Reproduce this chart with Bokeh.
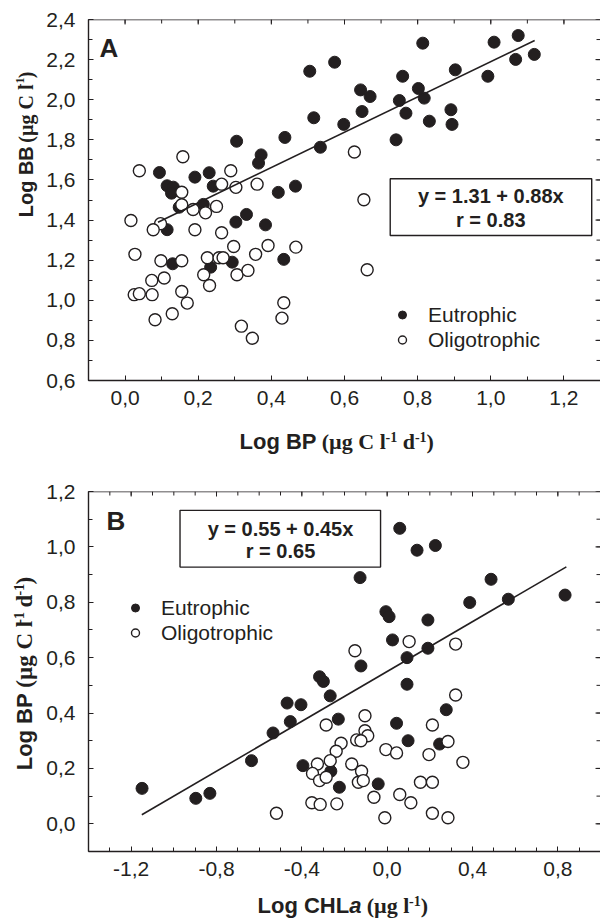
import numpy as np
from bokeh.plotting import figure
from bokeh.models import (Range1d, LinearAxis, FixedTicker, CustomJSTickFormatter,
                          Label, Legend, LegendItem, BoxAnnotation, Span)
from bokeh.layouts import column, row
from bokeh.embed import file_html
from bokeh.resources import INLINE

INK = "#231f20"

# ---------------- Panel A : Log BB vs Log BP ----------------
a_eu_bp = [0.505, 0.516, 0.534, 0.437, 0.305, 0.372, 0.365, 0.094, 0.191, 0.230,
           0.115, 0.132, 0.127, 0.241, 0.419, 0.466, 0.148, 0.214, 0.115, 0.303,
           0.332, 0.384, 0.130, 0.234, 0.293, 0.434, 0.573, 0.814, 1.009, 1.075,
           1.119, 1.068, 0.992, 0.903, 0.759, 0.802, 0.818, 0.750, 0.768, 0.832,
           0.891, 0.894, 0.741, 0.644, 0.670, 0.648, 0.598]
a_eu_bb = [2.142, 1.910, 1.763, 1.812, 1.793, 1.725, 1.684, 1.637, 1.614, 1.636,
           1.571, 1.564, 1.534, 1.569, 1.538, 1.569, 1.464, 1.478, 1.352, 1.390,
           1.428, 1.376, 1.182, 1.165, 1.190, 1.204, 2.187, 2.282, 2.287, 2.320,
           2.226, 2.201, 2.117, 2.149, 2.117, 2.056, 2.008, 1.996, 1.933, 1.893,
           1.950, 1.877, 1.800, 2.049, 2.016, 1.941, 1.877]
a_ol_bp = [0.039, 0.158, 0.155, 0.264, 0.289, 0.303, 0.361, 0.155, 0.186, 0.220,
           0.250, 0.016, 0.097, 0.077, 0.191, 0.264, 0.027, 0.098, 0.155, 0.225,
           0.257, 0.268, 0.297, 0.357, 0.391, 0.467, 0.073, 0.107, 0.215, 0.306,
           0.336, 0.025, 0.039, 0.074, 0.155, 0.170, 0.231, 0.082, 0.129, 0.318,
           0.348, 0.434, 0.429, 0.627, 0.653, 0.662]
a_ol_bb = [1.646, 1.716, 1.539, 1.579, 1.646, 1.563, 1.579, 1.476, 1.453, 1.436,
           1.468, 1.398, 1.382, 1.352, 1.352, 1.337, 1.229, 1.197, 1.197, 1.212,
           1.212, 1.212, 1.268, 1.229, 1.273, 1.265, 1.099, 1.111, 1.127, 1.127,
           1.149, 1.028, 1.033, 1.028, 1.044, 0.986, 1.074, 0.903, 0.933, 0.871,
           0.811, 0.988, 0.911, 1.739, 1.501, 1.152]
a_intercept, a_slope, a_r = 1.31, 0.88, 0.83
a_fit_bp = [0.09, 1.12]
a_xticks = [0.0, 0.2, 0.4, 0.6, 0.8, 1.0, 1.2]
a_yticks = [0.6, 0.8, 1.0, 1.2, 1.4, 1.6, 1.8, 2.0, 2.2, 2.4]

# ---------------- Panel B : Log BP vs Log CHLa ----------------
b_eu_chl = [0.059, 0.140, 0.226, -0.127, 0.487, 0.834, 0.387, 0.568, -0.006, 0.009,
            0.191, 0.025, 0.191, 0.093, -1.149, -0.897, -0.831, -0.636, -0.535, -0.469,
            -0.454, -0.404, -0.395, -0.317, -0.299, -0.267, -0.123, 0.093, 0.277, -0.229,
            0.044, 0.098, 0.246, -0.264, -0.224, -0.042]
b_eu_bp = [1.067, 0.988, 1.005, 0.889, 0.883, 0.826, 0.799, 0.811, 0.766, 0.748,
           0.736, 0.664, 0.634, 0.600, 0.128, 0.092, 0.110, 0.228, 0.328, 0.436,
           0.369, 0.430, 0.210, 0.531, 0.514, 0.462, 0.570, 0.504, 0.412, 0.378,
           0.363, 0.300, 0.288, 0.190, 0.132, 0.144]
b_ol_chl = [-0.151, 0.103, 0.321, 0.321, -0.286, -0.104, 0.212, -0.104, -0.143, -0.091,
            -0.123, -0.216, -0.239, -0.006, 0.044, 0.196, 0.285, 0.355, -0.267, -0.327,
            -0.350, -0.317, -0.286, -0.166, -0.120, -0.135, -0.112, 0.156, 0.212, -0.062,
            0.059, 0.111, -0.353, -0.314, -0.236, -0.011, 0.212, 0.285, -0.519]
b_ol_bp = [0.625, 0.658, 0.649, 0.465, 0.357, 0.390, 0.357, 0.336, 0.303, 0.318,
           0.300, 0.291, 0.262, 0.268, 0.256, 0.250, 0.297, 0.222, 0.228, 0.216,
           0.182, 0.156, 0.168, 0.216, 0.190, 0.150, 0.156, 0.150, 0.150, 0.096,
           0.106, 0.076, 0.076, 0.070, 0.072, 0.022, 0.038, 0.022, 0.038]
b_intercept, b_slope, b_r = 0.55, 0.45, 0.65
b_fit_chl = [-1.15, 0.84]
b_xticks = [-1.2, -0.8, -0.4, 0.0, 0.4, 0.8]
b_yticks = [0.0, 0.2, 0.4, 0.6, 0.8, 1.0, 1.2]

legend_labels = ["Eutrophic", "Oligotrophic"]

# ---------------- helpers ----------------
SANS_B = {"L": 611, "o": 611, "g": 611, " ": 278, "B": 722, "P": 667, "C": 722,
          "H": 722, "a": 556}
SERIF_B = {"(": 333, ")": 333, "µ": 556, "g": 500, " ": 250, "C": 722, "l": 278,
           "d": 556, "-": 333, "1": 500}
SERIF = "Liberation Serif"
SANS = "Liberation Sans"


def width(text, table, size):
    return sum(table.get(c, 556) for c in text) * size / 1000.0


def strip(w, h):
    s = figure(width=w, height=h, x_range=Range1d(0, w), y_range=Range1d(0, h),
               output_backend="svg", toolbar_location=None,
               x_axis_location=None, y_axis_location=None)
    s.min_border = 0
    s.min_border_left = s.min_border_right = s.min_border_top = s.min_border_bottom = 0
    s.outline_line_color = None
    s.xgrid.visible = False
    s.ygrid.visible = False
    return s


def add_title(s, h, segments, x0, y0, vertical=False):
    """x0, y0: start of the baseline, in the strip's pixel coordinates (y from top).
    Every piece is anchored at its own centre so that rotation cannot shift it."""
    k = 1.09 if vertical else 1.0
    pos = 0.0
    for text, font, style, size, rise, table in segments:
        lead = len(text) - len(text.lstrip())
        pos += k * width(text[:lead], table, size)
        t = text.strip()
        w = k * width(t, table, size)
        mid = rise + 0.35 * size
        c = pos + w / 2.0
        if vertical:
            fx, fy, ang = x0 - mid, y0 - c, np.pi / 2
        else:
            fx, fy, ang = x0 + c, y0 - mid, 0.0
        s.add_layout(Label(x=fx, y=h - fy, text=t, text_font=font, text_font_style=style,
                           text_font_size=f"{size}px", text_color=INK, text_align="center",
                           text_baseline="middle", angle=ang))
        pos += w


fmt = CustomJSTickFormatter(code="return tick.toFixed(1).replace('.', ',');")


def add_axis(p, loc, ticks, minor, standoff):
    ax = LinearAxis(ticker=FixedTicker(ticks=ticks, minor_ticks=minor))
    ax.major_tick_in = 5
    ax.major_tick_out = 0
    ax.minor_tick_in = 4
    ax.minor_tick_out = 0
    ax.major_tick_line_color = INK
    ax.minor_tick_line_color = INK
    ax.axis_line_color = INK
    ax.axis_line_width = 1.4
    ax.formatter = fmt
    ax.major_label_text_font = SANS
    ax.major_label_text_font_size = "21px"
    ax.major_label_text_color = INK
    ax.major_label_standoff = standoff
    p.add_layout(ax, loc)


def make_fig(xr, yr, xt, xm, yt, ym, height, top, bottom):
    p = figure(width=560, height=height, x_range=Range1d(*xr), y_range=Range1d(*yr),
               output_backend="svg", toolbar_location=None,
               x_axis_location=None, y_axis_location=None)
    p.min_border = 0
    p.min_border_left = 48
    p.min_border_right = 0
    p.min_border_top = top
    p.min_border_bottom = bottom
    p.outline_line_color = None
    p.xgrid.visible = False
    p.ygrid.visible = False
    add_axis(p, "below", xt, xm, 10)
    add_axis(p, "left", yt, ym, 13)
    p.add_layout(Span(location=yr[1], dimension="width", line_color=INK, line_width=1.4))
    p.ray(x=xt, y=[yr[1]] * len(xt), length=5, length_units="screen", angle=-np.pi / 2,
          line_color=INK, line_width=1)
    p.ray(x=xm, y=[yr[1]] * len(xm), length=4, length_units="screen", angle=-np.pi / 2,
          line_color=INK, line_width=1)
    p.ray(x=[xr[1]] * len(yt), y=yt, length=5, length_units="screen", angle=np.pi,
          line_color=INK, line_width=1)
    p.ray(x=[xr[1]] * len(ym), y=ym, length=4, length_units="screen", angle=np.pi,
          line_color=INK, line_width=1)
    return p


def panel(p, ex, ey, ox, oy, b0, b1, fitx, leg_loc):
    r_eu = p.scatter(ex, ey, size=12, fill_color=INK, line_color=INK, line_width=1)
    r_ol = p.scatter(ox, oy, size=12, fill_color="white", line_color=INK, line_width=1.4)
    fx = np.array(fitx)
    p.line(fx, b0 + b1 * fx, line_color=INK, line_width=1.6)
    leg = Legend(items=[LegendItem(label=legend_labels[0], renderers=[r_eu]),
                        LegendItem(label=legend_labels[1], renderers=[r_ol])],
                 location=leg_loc, orientation="vertical", padding=0, margin=0,
                 spacing=0, glyph_width=20, glyph_height=25, label_height=25,
                 label_standoff=16, border_line_alpha=0, background_fill_alpha=0,
                 label_text_font=SANS, label_text_font_size="21px",
                 label_text_color=INK)
    p.add_layout(leg)


def eq_box(p, box, cx, y1, y2, b0, b1, r):
    l, rr, b, t = box
    p.add_layout(BoxAnnotation(left=l, right=rr, bottom=b, top=t, fill_color="white",
                               fill_alpha=1, line_color=INK, line_alpha=1,
                               line_width=1.4))
    for yy, txt in ((y1, f"y = {b0:.2f} + {b1:.2f}x"), (y2, f"r = {r:.2f}")):
        p.add_layout(Label(x=cx, y=yy, text=txt, text_align="center",
                           text_baseline="middle", text_font=SANS,
                           text_font_style="bold", text_font_size="20px",
                           text_color=INK))


# ---------------- Panel A ----------------
pa = make_fig((-0.1, 1.3), (0.6, 2.4), a_xticks, list(np.round(np.arange(-0.1, 1.31, 0.1), 2)),
              a_yticks, list(np.round(np.arange(0.6, 2.41, 0.1), 2)), 430, 19, 50)
panel(pa, a_eu_bp, a_eu_bb, a_ol_bp, a_ol_bb, a_intercept, a_slope, a_fit_bp, (304, 28))
eq_box(pa, (0.725, 1.276, 1.323, 1.606), 1.0, 1.518, 1.398, a_intercept, a_slope, a_r)
pa.add_layout(Label(x=11, y=333, x_units="screen", y_units="screen", text="A",
                    text_font=SANS, text_font_style="bold", text_font_size="26px",
                    text_color=INK, text_baseline="alphabetic"))

ya = strip(40, 430)
add_title(ya, 430, [
    ("Log BB", SANS, "bold", 20, 0, SANS_B),
    ("  (µg C l", SERIF, "bold", 20, 0, SERIF_B),
    ("-1", SERIF, "bold", 12, 8, SERIF_B),
    (")", SERIF, "bold", 20, 0, SERIF_B),
], 32, 232, vertical=True)

xa = strip(600, 40)
add_title(xa, 40, [
    ("Log BP", SANS, "bold", 22, 0, SANS_B),
    (" (µg C l", SERIF, "bold", 22, 0, SERIF_B),
    ("-1", SERIF, "bold", 14, 8, SERIF_B),
    (" d", SERIF, "bold", 22, 0, SERIF_B),
    ("-1", SERIF, "bold", 14, 8, SERIF_B),
    (")", SERIF, "bold", 22, 0, SERIF_B),
], 239, 19)

# ---------------- Panel B ----------------
pb = make_fig((-1.4, 1.0), (-0.1, 1.2), b_xticks, list(np.round(np.arange(-1.4, 1.01, 0.1), 2)),
              b_yticks, list(np.round(np.arange(-0.1, 1.21, 0.1), 2)), 421, 21, 40)
panel(pb, b_eu_chl, b_eu_bp, b_ol_chl, b_ol_bp, b_intercept, b_slope, b_fit_chl, (37, 206))
eq_box(pb, (-0.971, -0.031, 0.927, 1.132), -0.50, 1.064, 0.985, b_intercept, b_slope, b_r)
pb.add_layout(Label(x=18, y=331, x_units="screen", y_units="screen", text="B",
                    text_font=SANS, text_font_style="bold", text_font_size="26px",
                    text_color=INK, text_baseline="alphabetic"))

yb = strip(40, 421)
add_title(yb, 421, [
    ("Log BP", SANS, "bold", 22, 0, SANS_B),
    ("  (µg C l", SERIF, "bold", 23, 0, SERIF_B),
    ("-1", SERIF, "bold", 14, 9, SERIF_B),
    (" d", SERIF, "bold", 23, 0, SERIF_B),
    ("-1", SERIF, "bold", 14, 9, SERIF_B),
    (")", SERIF, "bold", 23, 0, SERIF_B),
], 32, 323, vertical=True)

xb = strip(600, 33)
add_title(xb, 33, [
    ("Log CHL", SANS, "bold", 22, 0, SANS_B),
    ("a", SANS, "bold italic", 22, 0, SANS_B),
    (" (µg l", SERIF, "bold", 22, 0, SERIF_B),
    ("-1", SERIF, "bold", 14, 8, SERIF_B),
    (")", SERIF, "bold", 22, 0, SERIF_B),
], 257, 22)

layout = column(row(ya, pa, spacing=0), xa, row(yb, pb, spacing=0), xb, spacing=0)
open("out.html", "w").write(file_html(layout, INLINE))
